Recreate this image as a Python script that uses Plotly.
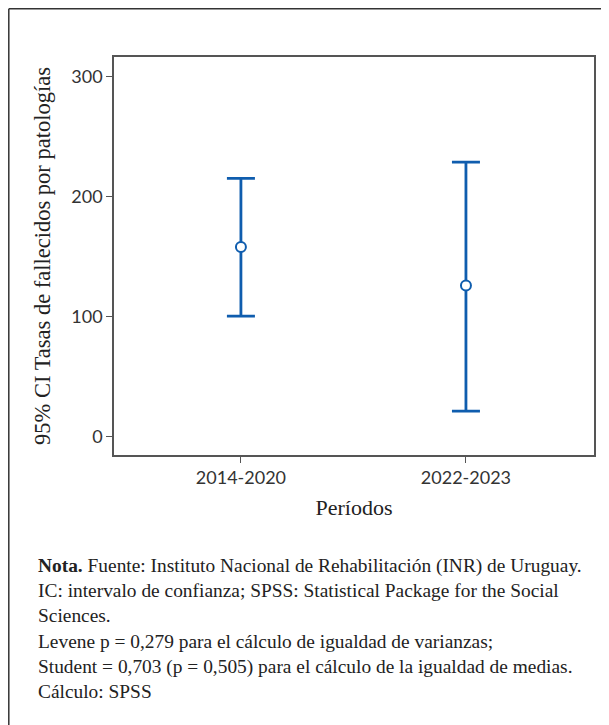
import plotly.graph_objects as go

# Data
periods = ["2014-2020", "2022-2023"]
means = [158, 126]
ci_lower = [100.5, 21.5]
ci_upper = [215, 228.5]
y_ticks = [0, 100, 200, 300]

note_lines = [
    "<b>Nota.</b> Fuente: Instituto Nacional de Rehabilitación (INR) de Uruguay.",
    "IC: intervalo de confianza; SPSS: Statistical Package for the Social",
    "Sciences.",
    "Levene p = 0,279 para el cálculo de igualdad de varianzas;",
    "Student = 0,703 (p = 0,505) para el cálculo de la igualdad de medias.",
    "Cálculo: SPSS",
]

OFF = 8  # page offset of the figure div
W, H = 609 - OFF, 725 - OFF
L, T = 114 - OFF, 57 - OFF
R = W - (594 - OFF)
B = H - (455 - OFF)
PW, PH = W - L - R, H - T - B

def px(x):  # absolute page x -> paper
    return (x - OFF - L) / PW

def py(y):  # absolute page y -> paper
    return (H - B - (y - OFF)) / PH

blue = "#0F5DAE"
xpos = list(range(len(periods)))

fig = go.Figure()
fig.add_trace(go.Scatter(
    x=xpos, y=means, mode="markers",
    marker=dict(symbol="circle", size=10, color="white", line=dict(width=2, color=blue)),
    error_y=dict(type="data", symmetric=False,
                 array=[u - m for u, m in zip(ci_upper, means)],
                 arrayminus=[m - l for m, l in zip(means, ci_lower)],
                 color=blue, thickness=2.8, width=14),
    showlegend=False,
))

tickfont = dict(family="Lato, 'Open Sans', sans-serif", size=18, color="#333")
serif = "'Liberation Serif', 'DejaVu Serif', serif"

fig.update_layout(
    width=W, height=H,
    margin=dict(l=L, r=R, t=T, b=B),
    paper_bgcolor="white", plot_bgcolor="white",
    xaxis=dict(
        range=[-0.564, 1.569], tickvals=xpos, ticktext=periods,
        showgrid=False, zeroline=False, showline=True, mirror=True,
        linecolor="#555", linewidth=1.5, ticks="outside", ticklen=6, tickcolor="#555",
        tickfont=tickfont,
        title=dict(text="Períodos", font=dict(family=serif, size=22, color="#222"), standoff=12),
    ),
    yaxis=dict(
        range=[-15, 316], tickvals=y_ticks,
        showgrid=False, zeroline=False, showline=True, mirror=True,
        linecolor="#555", linewidth=1.5, ticks="outside", ticklen=6, tickcolor="#555",
        tickfont=tickfont,
        title=dict(text="95% CI Tasas de fallecidos por patologías",
                   font=dict(family=serif, size=22.5, color="#222"), standoff=14),
    ),
    shapes=[
        dict(type="line", xref="paper", yref="paper", x0=px(8.8), x1=px(8.8), y0=py(8.8), y1=py(730),
             line=dict(color="#333", width=1.5)),
        dict(type="line", xref="paper", yref="paper", x0=px(8.8), x1=px(615), y0=py(8.8), y1=py(8.8),
             line=dict(color="#333", width=1.5)),
    ],
    annotations=[
        dict(text="<br>".join(note_lines), xref="paper", yref="paper",
             x=px(36), y=py(553), xanchor="left", yanchor="top", align="left",
             showarrow=False, font=dict(family=serif, size=19.4, color="#222")),
    ],
)

fig.write_html("out.html")
